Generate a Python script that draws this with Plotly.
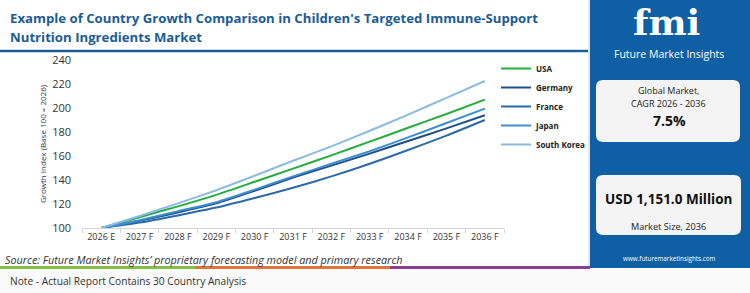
import plotly.graph_objects as go

years = ["2026 E", "2027 F", "2028 F", "2029 F", "2030 F", "2031 F",
         "2032 F", "2033 F", "2034 F", "2035 F", "2036 F"]
usa = [100, 109, 118, 127.6, 138.5, 149.5, 160.5, 172, 183.5, 195, 207]
germany = [100, 106, 113, 120.5, 131, 142, 152, 162, 172.5, 183, 194]
france = [100, 104.5, 110.5, 117, 125, 133.5, 143, 153.5, 165, 177, 190]
japan = [100, 106.5, 114, 121.5, 132, 143, 153.5, 164, 175.5, 187.5, 199.5]
south_korea = [100, 110, 120.5, 131.5, 143.5, 156, 168, 181, 194.5, 208.5, 222.5]

y_ticks = [100, 120, 140, 160, 180, 200, 220, 240]

series = [
    ("USA", usa, "#25ad3e"),
    ("Germany", germany, "#1d4f8a"),
    ("France", france, "#2a6aa9"),
    ("Japan", japan, "#3d8fd1"),
    ("South Korea", south_korea, "#8cbbe0"),
]

W, H = 750, 293
L, R, T, B = 82, 504, 60, 228


def px(x):
    return (x - L) / (R - L)


def py(y):
    return (B - y) / (B - T)


fig = go.Figure()
for name, vals, col in series:
    fig.add_trace(go.Scatter(
        x=years, y=vals, name=name, mode="lines",
        line=dict(color=col, width=2, shape="spline", smoothing=0.6),
    ))

FONT = "Open Sans"


def rounded_rect(x0, y0, x1, y1, r):
    rx = r / (R - L)
    ry = r / (B - T)
    X0, X1 = px(x0), px(x1)
    Y0, Y1 = py(y0), py(y1)
    return (f"M {X0+rx},{Y0} L {X1-rx},{Y0} Q {X1},{Y0} {X1},{Y0-ry} "
            f"L {X1},{Y1+ry} Q {X1},{Y1} {X1-rx},{Y1} L {X0+rx},{Y1} "
            f"Q {X0},{Y1} {X0},{Y1+ry} L {X0},{Y0-ry} Q {X0},{Y0} {X0+rx},{Y0} Z")


shapes = [
    dict(type="rect", xref="paper", yref="paper", x0=px(0), x1=px(750),
         y0=py(293), y1=py(269), fillcolor="#fafafa", line_width=0, layer="below"),
    dict(type="rect", xref="paper", yref="paper", x0=px(590), x1=px(750),
         y0=py(268), y1=py(0), fillcolor="#0e5fa3", line_width=0, layer="below"),
    dict(type="rect", xref="paper", yref="paper", x0=px(588), x1=px(590),
         y0=py(268), y1=py(0), fillcolor="#e6e6e6", line_width=0, layer="below"),
    dict(type="line", xref="paper", yref="paper", x0=px(0), x1=px(588),
         y0=py(51), y1=py(51), line=dict(color="#1b5c97", width=2.5)),
    dict(type="rect", xref="paper", yref="paper", x0=px(0), x1=px(195),
         y0=py(269), y1=py(266), fillcolor="#86bf45", line_width=0),
    dict(type="rect", xref="paper", yref="paper", x0=px(195), x1=px(390),
         y0=py(269), y1=py(266), fillcolor="#e2733b", line_width=0),
    dict(type="rect", xref="paper", yref="paper", x0=px(390), x1=px(590),
         y0=py(269), y1=py(266), fillcolor="#8c3e97", line_width=0),
    dict(type="path", xref="paper", yref="paper",
         path=rounded_rect(596, 80, 740, 142, 7), fillcolor="#f4f4f4", line_width=0),
    dict(type="path", xref="paper", yref="paper",
         path=rounded_rect(596, 175, 741, 235, 7), fillcolor="#f4f4f4", line_width=0),
]


def ann(text, x, y, size, color="#222222", bold=False, italic=False,
        xanchor="left", family=FONT):
    return dict(text=text, xref="paper", yref="paper", x=px(x), y=py(y),
                xanchor=xanchor, yanchor="middle", showarrow=False,
                font=dict(family=family, size=size, color=color,
                          weight="bold" if bold else "normal",
                          style="italic" if italic else "normal"))


annotations = [
    ann("Example of Country Growth Comparison in Children's Targeted Immune-Support",
        8, 18, 13.2, color="#1b5c97", bold=True),
    ann("Nutrition Ingredients Market", 8, 37, 13.2, color="#1b5c97", bold=True),
    ann("Source: Future Market Insights’ proprietary forecasting model and primary research",
        3, 259, 10.8, color="#333333", italic=True),
    ann("Note - Actual Report Contains 30 Country Analysis", 8, 281, 10.2, color="#333333"),
    ann("fmi", 666, 22, 36, color="#ffffff", bold=True, xanchor="center",
        family="DejaVu Serif"),
    ann("Future Market Insights", 669, 54, 10.5, color="#ffffff", xanchor="center"),
    ann("Global Market,", 668, 90, 9, color="#222222", xanchor="center"),
    ann("CAGR 2026 - 2036", 668, 103, 9, color="#222222", xanchor="center"),
    ann("7.5%", 669, 120, 14, color="#111111", bold=True, xanchor="center"),
    ann("USD 1,151.0 Million", 668, 199, 13.5, color="#111111", bold=True, xanchor="center"),
    ann("Market Size, 2036", 668, 226, 9.2, color="#222222", xanchor="center"),
    ann("www.futuremarketinsights.com", 669, 258, 6.3, color="#ffffff", xanchor="center"),
]

fig.update_layout(
    width=W, height=H,
    margin=dict(l=L, r=W - R, t=T, b=H - B),
    paper_bgcolor="#ffffff", plot_bgcolor="#ffffff",
    font=dict(family=FONT, color="#333333"),
    shapes=shapes, annotations=annotations,
    legend=dict(x=px(496), y=py(54), xanchor="left", yanchor="top",
                font=dict(family=FONT, size=8, color="#222222", weight="bold"),
                bgcolor="rgba(0,0,0,0)", itemwidth=30),
    xaxis=dict(type="category", range=[-0.5, 10.5], showgrid=False,
               showline=True, linecolor="#d5d5d5", linewidth=1,
               ticks="outside", tickson="boundaries", ticklen=4, tickcolor="#d5d5d5",
               tickfont=dict(size=9, color="#333333"), zeroline=False),
    yaxis=dict(range=[100, 240], tickvals=y_ticks, showgrid=False, zeroline=False,
               showline=False, ticks="", ticklabelstandoff=10,
               tickfont=dict(size=11, color="#333333"),
               title=dict(text="Growth Index (Base 100 = 2026)", standoff=4,
                          font=dict(size=8, color="#333333"))),
)

fig.write_html("out.html")
